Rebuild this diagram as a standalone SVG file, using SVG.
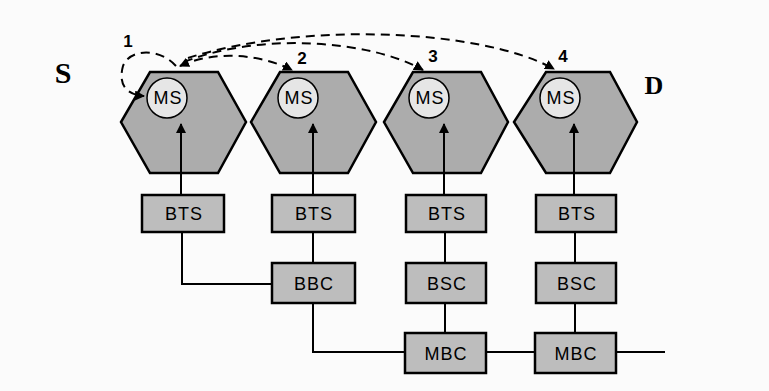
<svg xmlns="http://www.w3.org/2000/svg" width="769" height="391" viewBox="0 0 769 391">
<defs>
<style>
.hex{fill:#acacac;stroke:#000;stroke-width:2.5}
.ms{fill:#e6e6e6;stroke:#000;stroke-width:1.5}
.box{fill:#bdbdbd;stroke:#000;stroke-width:2.5}
.lbl{font-family:"Liberation Sans",Arial,sans-serif;font-size:18px;fill:#000;text-anchor:middle;letter-spacing:1px}
.num{font-family:"Liberation Sans",Arial,sans-serif;font-size:17px;font-weight:bold;fill:#000;text-anchor:middle}
.big{font-family:"Liberation Serif","Times New Roman",serif;font-weight:bold;fill:#000;text-anchor:middle}
.wire{stroke:#000;stroke-width:2;fill:none}
.dash{stroke:#000;stroke-width:2;fill:none;stroke-dasharray:9 6}
</style>
<marker id="ah" viewBox="0 0 10 10" refX="9" refY="5" markerWidth="5" markerHeight="5" orient="auto-start-reverse">
<path d="M0,0 L10,5 L0,10 z" fill="#000"/>
</marker>
</defs>
<rect width="769" height="391" fill="#fbfbfb"/>
<text class="big" x="63" y="83" font-size="30">S</text>
<text class="big" x="654" y="94" font-size="26">D</text>
<g id="cell1">
<polygon class="hex" points="150,72 218,72 246,122 218,173 150,173 121,122"/>
<circle class="ms" cx="167" cy="98" r="20"/>
<text class="lbl" x="168" y="104" font-size="17">MS</text>
</g>
<g id="cell2">
<polygon class="hex" points="280,72 348,72 376,122 348,173 280,173 251,122"/>
<circle class="ms" cx="298" cy="98" r="20"/>
<text class="lbl" x="299" y="104" font-size="17">MS</text>
</g>
<g id="cell3">
<polygon class="hex" points="413,72 481,72 508,122 481,173 413,173 384,122"/>
<circle class="ms" cx="429" cy="98" r="20"/>
<text class="lbl" x="430" y="104" font-size="17">MS</text>
</g>
<g id="cell4">
<polygon class="hex" points="546,72 610,72 637,122 610,173 546,173 514,122"/>
<circle class="ms" cx="560" cy="98" r="20"/>
<text class="lbl" x="561" y="104" font-size="17">MS</text>
</g>
<g id="connectors">
<line class="wire" x1="181" y1="195" x2="181" y2="124" marker-end="url(#ah)"/>
<line class="wire" x1="313" y1="195" x2="313" y2="124" marker-end="url(#ah)"/>
<line class="wire" x1="444" y1="195" x2="444" y2="124" stroke-width="3" marker-end="url(#ah)"/>
<line class="wire" x1="574" y1="195" x2="574" y2="124" stroke-width="3" marker-end="url(#ah)"/>
<polyline class="wire" points="182,232 182,284 272,284"/>
<line class="wire" x1="313" y1="232" x2="313" y2="263"/>
<polyline class="wire" points="313,303 313,352 405,352"/>
<line class="wire" x1="445" y1="232" x2="445" y2="263"/>
<line class="wire" x1="445" y1="303" x2="445" y2="333"/>
<line class="wire" x1="575" y1="232" x2="575" y2="263"/>
<line class="wire" x1="575" y1="303" x2="575" y2="333"/>
<line class="wire" x1="486" y1="352" x2="535" y2="352"/>
<line class="wire" x1="616" y1="352" x2="665" y2="352"/>
<path class="dash" d="M176,66 C160,48 130,48 123,66 C118,84 126,95 144,96" marker-end="url(#ah)"/>
<path class="dash" d="M180,66 C215,50 260,54 292,70" marker-start="url(#ah)" marker-end="url(#ah)"/>
<path class="dash" d="M184,62 C260,32 370,40 423,70" marker-end="url(#ah)"/>
<path class="dash" d="M188,58 C300,22 480,28 554,69" marker-end="url(#ah)"/>
</g>
<text class="num" x="128" y="47">1</text>
<text class="num" x="302" y="64">2</text>
<text class="num" x="433" y="62">3</text>
<text class="num" x="563" y="62">4</text>
<g id="bts1"><rect class="box" x="142" y="195" width="82" height="37"/><text class="lbl" x="184" y="220">BTS</text></g>
<g id="bts2"><rect class="box" x="272" y="195" width="83" height="37"/><text class="lbl" x="314" y="220">BTS</text></g>
<g id="bts3"><rect class="box" x="406" y="195" width="80" height="37"/><text class="lbl" x="447" y="220">BTS</text></g>
<g id="bts4"><rect class="box" x="536" y="195" width="80" height="37"/><text class="lbl" x="577" y="220">BTS</text></g>
<g id="bbc"><rect class="box" x="272" y="263" width="83" height="40"/><text class="lbl" x="314" y="290">BBC</text></g>
<g id="bsc3"><rect class="box" x="406" y="263" width="80" height="40"/><text class="lbl" x="447" y="290">BSC</text></g>
<g id="bsc4"><rect class="box" x="536" y="263" width="80" height="40"/><text class="lbl" x="577" y="290">BSC</text></g>
<g id="mbc3"><rect class="box" x="405" y="333" width="81" height="40"/><text class="lbl" x="446" y="360">MBC</text></g>
<g id="mbc4"><rect class="box" x="535" y="333" width="81" height="40"/><text class="lbl" x="576" y="360">MBC</text></g>
</svg>
